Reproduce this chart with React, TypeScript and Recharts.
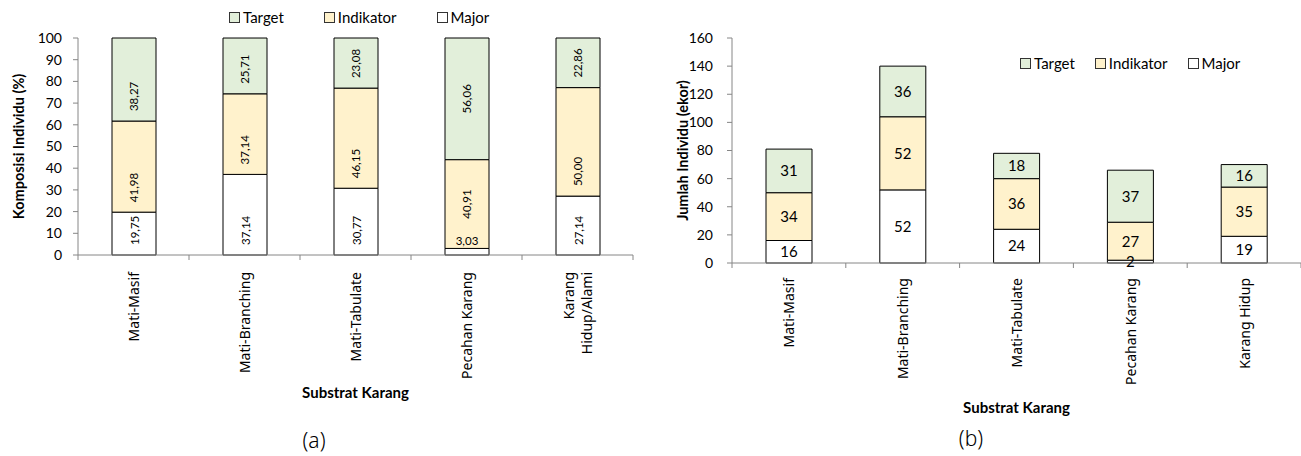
import React from 'react';
import { BarChart, Bar, XAxis, YAxis, LabelList, Label } from 'recharts';

// (a) komposisi individu (%)
const categoriesA = ['Mati-Masif', 'Mati-Branching', 'Mati-Tabulate', 'Pecahan Karang', 'Karang Hidup/Alami'];
const majorA = [19.75, 37.14, 30.77, 3.03, 27.14];
const indikatorA = [41.98, 37.14, 46.15, 40.91, 50.0];
const targetA = [38.27, 25.71, 23.08, 56.06, 22.86];
const ticksA = [0, 10, 20, 30, 40, 50, 60, 70, 80, 90, 100];

// (b) jumlah individu (ekor)
const categoriesB = ['Mati-Masif', 'Mati-Branching', 'Mati-Tabulate', 'Pecahan Karang', 'Karang Hidup'];
const majorB = [16, 52, 24, 2, 19];
const indikatorB = [34, 52, 36, 27, 35];
const targetB = [31, 36, 18, 37, 16];
const ticksB = [0, 20, 40, 60, 80, 100, 120, 140, 160];

const legendNames = ['Target', 'Indikator', 'Major'];

const COLORS: Record<string, string> = {
  Major: '#ffffff',
  Indikator: '#fff2cc',
  Target: '#e2efda',
};
const AXIS = '#868686';
const NUM_FONT = 'Lato, "Liberation Sans", sans-serif';
const CAT_FONT = '"Noto Sans", "DejaVu Sans", sans-serif';

const dataA = categoriesA.map((name, i) => ({
  name,
  Major: majorA[i],
  Indikator: indikatorA[i],
  Target: targetA[i],
}));
const dataB = categoriesB.map((name, i) => ({
  name,
  Major: majorB[i],
  Indikator: indikatorB[i],
  Target: targetB[i],
}));

const fmt = (v: number) => v.toFixed(2).replace('.', ',');

function CatTick(props: any) {
  const { x, y, payload, index, band, top, count } = props;
  const text: string = String(payload.value);
  const sp = text.indexOf(' ');
  const lines = text.length > 15 && sp > 0 ? [text.slice(0, sp), text.slice(sp + 1)] : [text];
  const fs = 14;
  const lh = fs * 1.25;
  const half = band / 2;
  return (
    <g>
      <line x1={x - half} x2={x - half} y1={y} y2={y + 5} stroke={AXIS} />
      {index === count - 1 && <line x1={x + half} x2={x + half} y1={y} y2={y + 5} stroke={AXIS} />}
      {lines.map((ln, i) => {
        const lx = x + (i - (lines.length - 1) / 2) * lh;
        const ly = y + top;
        return (
          <text
            key={i}
            x={lx}
            y={ly}
            transform={`rotate(-90 ${lx} ${ly})`}
            textAnchor="end"
            dominantBaseline="central"
            fontSize={fs}
            fontFamily={CAT_FONT}
            fill="#000"
          >
            {ln}
          </text>
        );
      })}
    </g>
  );
}

function PctLabel(props: any) {
  const { x, y, width, height, value, index } = props;
  const cx = x + width / 2;
  if (height < 12) {
    return (
      <text x={cx} y={y - 8} textAnchor="middle" dominantBaseline="central" fontSize={11.5} fontFamily={NUM_FONT} fill="#000">
        {fmt(value)}
      </text>
    );
  }
  // Pecahan Karang labels sit mid-segment, the others sit near the segment bottom
  const centered = index === 3;
  const ty = centered ? y + height / 2 : y + height - 10;
  return (
    <text
      x={cx}
      y={ty}
      transform={`rotate(-90 ${cx} ${ty})`}
      textAnchor={centered ? 'middle' : 'start'}
      dominantBaseline="central"
      fontSize={11.5}
      fontFamily={NUM_FONT}
      fill="#000"
    >
      {fmt(value)}
    </text>
  );
}

const yTitle = (text: string, x: number) => (p: any) => {
  const vb = p.viewBox;
  const cy = vb.y + vb.height / 2;
  return (
    <text
      x={x}
      y={cy}
      transform={`rotate(-90 ${x} ${cy})`}
      textAnchor="middle"
      dominantBaseline="central"
      fontSize={14.5}
      fontWeight="bold"
      fontFamily={NUM_FONT}
      fill="#000"
    >
      {text}
    </text>
  );
};

const xTitle = (text: string, dy: number) => (p: any) => {
  const vb = p.viewBox;
  return (
    <text
      x={vb.x + vb.width / 2}
      y={vb.y + dy}
      textAnchor="middle"
      dominantBaseline="central"
      fontSize={15}
      fontWeight="bold"
      fontFamily={NUM_FONT}
      fill="#000"
    >
      {text}
    </text>
  );
};

function LegendBox({ left, top, gap }: { left: number; top: number; gap: number }) {
  return (
    <div
      style={{
        position: 'absolute',
        left,
        top,
        display: 'flex',
        gap,
        alignItems: 'center',
        fontFamily: NUM_FONT,
        fontSize: 15,
        lineHeight: '18px',
        transform: 'translateY(-50%)',
        whiteSpace: 'nowrap',
      }}
    >
      {legendNames.map((n) => (
        <div key={n} style={{ display: 'flex', alignItems: 'center' }}>
          <span
            style={{
              display: 'inline-block',
              width: 9,
              height: 9,
              border: '1px solid #333',
              background: COLORS[n],
              marginRight: 3,
            }}
          />
          <span>{n}</span>
        </div>
      ))}
    </div>
  );
}

const caption: React.CSSProperties = {
  position: 'absolute',
  transform: 'translate(-50%, -50%)',
  fontFamily: CAT_FONT,
  fontWeight: 300,
  fontSize: 21,
};

export default function App() {
  return (
    <div style={{ position: 'absolute', left: 0, top: 0, width: 1301, height: 456, background: '#fff', overflow: 'hidden' }}>
      <div style={{ position: 'absolute', left: 0, top: 0 }}>
        <BarChart width={650} height={456} data={dataA} margin={{ top: 38, right: 17, left: 0, bottom: 0 }}>
          <XAxis
            dataKey="name"
            height={201}
            interval={0}
            tickSize={0}
            tickMargin={0}
            tickLine={false}
            axisLine={{ stroke: AXIS }}
            tick={<CatTick band={111} top={17} count={categoriesA.length} />}
          >
            <Label content={xTitle('Substrat Karang', 137)} />
          </XAxis>
          <YAxis
            width={78}
            domain={[0, 100]}
            ticks={ticksA}
            interval={0}
            tickSize={5}
            tickMargin={11}
            axisLine={{ stroke: AXIS }}
            tickLine={{ stroke: AXIS }}
            tick={{ fill: '#000', fontSize: 14, fontFamily: NUM_FONT }}
          >
            <Label content={yTitle('Komposisi Individu (%)', 18)} />
          </YAxis>
          <Bar dataKey="Major" stackId="a" fill={COLORS.Major} stroke="#000" strokeWidth={1} barSize={44} isAnimationActive={false}>
            <LabelList dataKey="Major" content={<PctLabel />} />
          </Bar>
          <Bar dataKey="Indikator" stackId="a" fill={COLORS.Indikator} stroke="#000" strokeWidth={1} barSize={44} isAnimationActive={false}>
            <LabelList dataKey="Indikator" content={<PctLabel />} />
          </Bar>
          <Bar dataKey="Target" stackId="a" fill={COLORS.Target} stroke="#000" strokeWidth={1} barSize={44} isAnimationActive={false}>
            <LabelList dataKey="Target" content={<PctLabel />} />
          </Bar>
        </BarChart>
      </div>

      <div style={{ position: 'absolute', left: 650, top: 0 }}>
        <BarChart width={651} height={456} data={dataB} margin={{ top: 38, right: 0, left: 0, bottom: 0 }}>
          <XAxis
            dataKey="name"
            height={193}
            interval={0}
            tickSize={0}
            tickMargin={0}
            tickLine={false}
            axisLine={{ stroke: AXIS }}
            tick={<CatTick band={113.8} top={15} count={categoriesB.length} />}
          >
            <Label content={xTitle('Substrat Karang', 144)} />
          </XAxis>
          <YAxis
            width={82}
            domain={[0, 160]}
            ticks={ticksB}
            interval={0}
            tickSize={5}
            tickMargin={14}
            axisLine={{ stroke: AXIS }}
            tickLine={{ stroke: AXIS }}
            tick={{ fill: '#000', fontSize: 14, fontFamily: NUM_FONT }}
          >
            <Label content={yTitle('Jumlah Individu (ekor)', 32)} />
          </YAxis>
          {(['Major', 'Indikator', 'Target'] as const).map((k) => (
            <Bar key={k} dataKey={k} stackId="b" fill={COLORS[k]} stroke="#000" strokeWidth={1} barSize={46} isAnimationActive={false}>
              <LabelList dataKey={k} position="center" fill="#000" fontSize={15} fontFamily={NUM_FONT} />
            </Bar>
          ))}
        </BarChart>
      </div>

      <LegendBox left={229} top={17} gap={40} />
      <LegendBox left={1020} top={63} gap={20} />

      <div style={{ ...caption, left: 314, top: 440 }}>(a)</div>
      <div style={{ ...caption, left: 971, top: 438 }}>(b)</div>
    </div>
  );
}
